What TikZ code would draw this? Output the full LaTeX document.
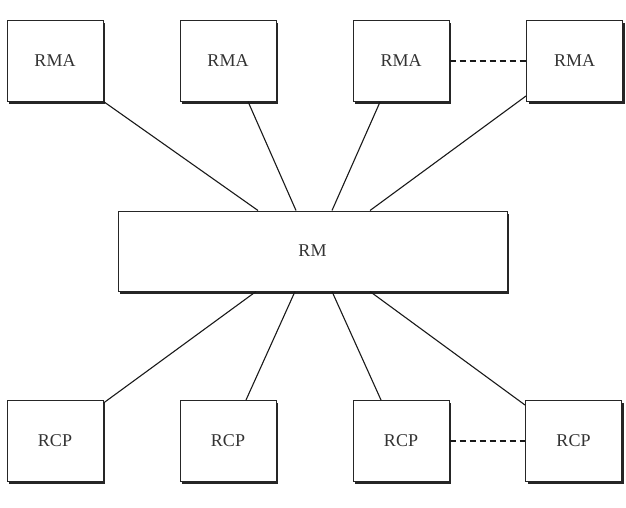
\documentclass[tikz,border=0pt]{standalone}
\usepackage{fontspec}
\setmainfont{Liberation Serif}
\usetikzlibrary{shadows,calc}
\begin{document}
\begin{tikzpicture}[x=1pt,y=-1pt,
  box/.style={draw=black!85,line width=1pt,fill=white,minimum width=96pt,minimum height=81pt,inner sep=0pt,
    font=\fontsize{18}{20}\selectfont,text=black!80,
    drop shadow={shadow xshift=2pt,shadow yshift=-2.6pt,fill=black!85,opacity=1}},
  link/.style={draw=black!90,line width=1.1pt},
  dlink/.style={link,dash pattern=on 6pt off 4pt}]
\useasboundingbox (0,0) rectangle (626,507);
\node[box] (rma1) at (55,60.5) {RMA};
\node[box] (rma2) at (228,60.5) {RMA};
\node[box] (rma3) at (401,61) {RMA};
\node[box] (rma4) at (574.5,61) {RMA};
\node[box,minimum width=389pt,minimum height=80pt] (rm) at (312.5,251) {RM};
\node[box] (rcp1) at (55,441) {RCP};
\node[box] (rcp2) at (228,441) {RCP};
\node[box] (rcp3) at (401,441) {RCP};
\node[box] (rcp4) at (573.5,441) {RCP};
\draw[link] (rma1.south east) -- ([xshift=-54.5pt]rm.north);
\draw[link] ([xshift=20pt]rma2.south) -- ([xshift=-16.5pt]rm.north);
\draw[link] ([xshift=-21pt]rma3.south) -- ([xshift=19.5pt]rm.north);
\draw[link] ([yshift=6pt]rma4.south west) -- ([xshift=57.5pt]rm.north);
\draw[link] ([xshift=-56.5pt]rm.south) -- ([yshift=-3pt]rcp1.north east);
\draw[link] ([xshift=-17.5pt]rm.south) -- ([xshift=18pt]rcp2.north);
\draw[link] ([xshift=19.5pt]rm.south) -- ([xshift=-20pt]rcp3.north);
\draw[link] ([xshift=57.5pt]rm.south) -- ([yshift=-5pt]rcp4.north west);
\draw[dlink] (rma3.east) -- (rma4.west);
\draw[dlink] (rcp3.east) -- (rcp4.west);
\end{tikzpicture}
\end{document}
